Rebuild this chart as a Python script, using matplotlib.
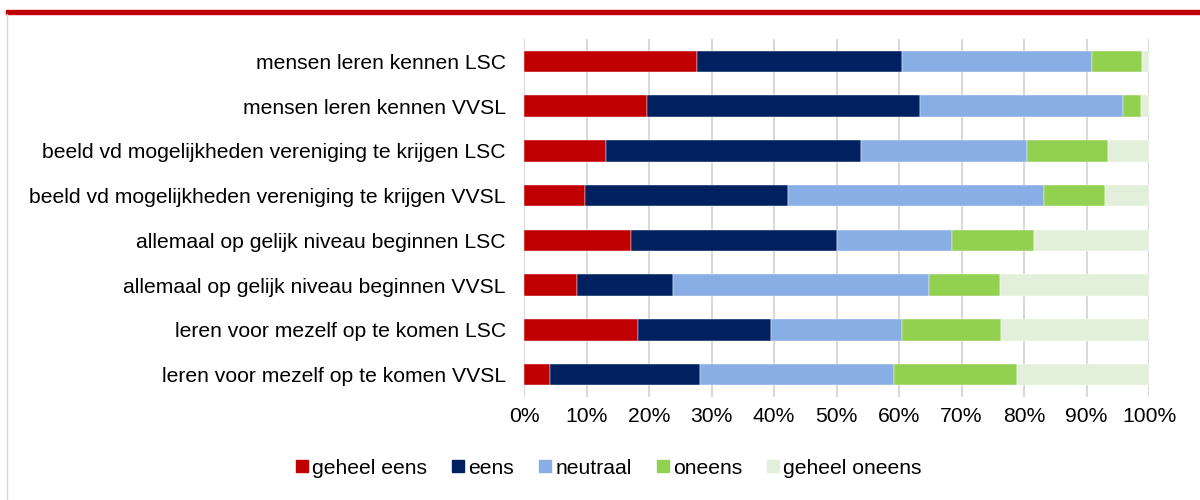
import matplotlib
matplotlib.use('Agg')
import matplotlib.pyplot as plt
import matplotlib.patches as mpatches
import matplotlib.lines as mlines
from matplotlib.ticker import PercentFormatter
import numpy as np

plt.rcParams['font.family'] = ['Liberation Sans', 'DejaVu Sans']

categories = [
    'mensen leren kennen LSC',
    'mensen leren kennen VVSL',
    'beeld vd mogelijkheden vereniging te krijgen LSC',
    'beeld vd mogelijkheden vereniging te krijgen VVSL',
    'allemaal op gelijk niveau beginnen LSC',
    'allemaal op gelijk niveau beginnen VVSL',
    'leren voor mezelf op te komen LSC',
    'leren voor mezelf op te komen VVSL',
]
series_names = ['geheel eens', 'eens', 'neutraal', 'oneens', 'geheel oneens']
geheel_eens = [27.6, 19.7, 13.1, 9.8, 17.1, 8.4, 18.3, 4.1]
eens = [32.9, 43.7, 40.8, 32.4, 32.9, 15.5, 21.2, 24.0]
neutraal = [30.4, 32.5, 26.5, 41.0, 18.5, 40.9, 21.0, 31.1]
oneens = [7.9, 2.8, 13.1, 9.8, 13.1, 11.3, 15.8, 19.7]
geheel_oneens = [1.2, 1.3, 6.5, 7.0, 18.4, 23.9, 23.7, 21.1]
colors = ['#C00000', '#002060', '#88AEE5', '#92D050', '#E2EFDA']

series = [geheel_eens, eens, neutraal, oneens, geheel_oneens]
FS = 15.2

fig = plt.figure(figsize=(12, 5), dpi=100)
ax = fig.add_axes([524 / 1200, 1 - 397 / 500, 625 / 1200, 358 / 500])

y = np.arange(len(categories))
left = np.zeros(len(categories))
for name, vals, c in zip(series_names, series, colors):
    vals = np.array(vals)
    ax.barh(y, vals, left=left, height=0.48, color=c, label=name,
            edgecolor='white', linewidth=0.3, zorder=3)
    left += vals

ax.set_xlim(0, 100)
ax.set_ylim(len(categories) - 0.5, -0.5)
ax.set_yticks(y)
ax.set_yticklabels(categories, fontsize=FS)
ax.set_xticks(np.arange(0, 101, 10))
ax.xaxis.set_major_formatter(PercentFormatter(decimals=0))
ax.tick_params(axis='x', labelsize=FS, length=0, pad=7)
ax.tick_params(axis='y', length=0, pad=13)
ax.grid(axis='x', color='#d9d9d9', linewidth=1.5, zorder=0)
for s in ax.spines.values():
    s.set_visible(False)

handles = [mpatches.Patch(color=c, label=n) for n, c in zip(series_names, colors)]
fig.legend(handles=handles, loc='center', bbox_to_anchor=(609 / 1200, 1 - 468 / 500),
           ncol=5, frameon=False, fontsize=FS, handlelength=0.55, handleheight=0.55,
           handletextpad=0.2, columnspacing=1.2)

# top red band and left frame line
fig.add_artist(mpatches.Rectangle((0.005, 1 - 14 / 500), 0.995, 4 / 500,
                                  transform=fig.transFigure, color='#C00000'))
fig.add_artist(mlines.Line2D([7 / 1200, 7 / 1200], [0, 1 - 14 / 500],
                             transform=fig.transFigure, color='#d9d9d9', linewidth=1))

fig.savefig('out.png', dpi=100)
